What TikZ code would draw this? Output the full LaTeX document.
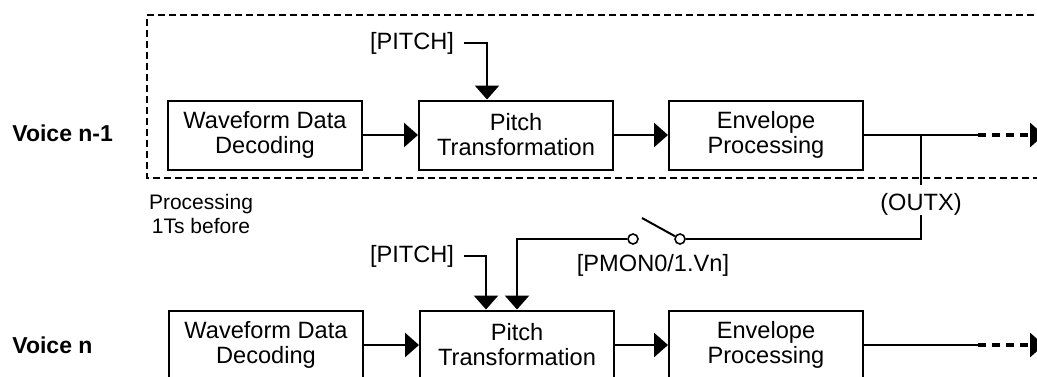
\documentclass[tikz,border=0pt]{standalone}
\usepackage{fontspec}
\setmainfont{Liberation Sans}
\usetikzlibrary{arrows.meta}
\begin{document}
\begin{tikzpicture}[x=0.5pt,y=-0.5pt,
        caja/.style={draw,line width=1pt,minimum width=97pt,minimum height=34.5pt,
          align=center,inner sep=0pt,font=\fontsize{11.8}{12.5}\selectfont},
        flecha/.style={line width=1.4pt,-{Triangle[length=7pt,width=12pt]}},
        linea/.style={line width=1.3pt},
        contacto/.style={circle,draw,fill=white,line width=0.8pt,minimum size=5pt,inner sep=0pt},
        etiq/.style={font=\fontsize{11.8}{14}\selectfont,inner sep=0pt,outer sep=5pt},
        voz/.style={font=\bfseries\fontsize{11.5}{14}\selectfont,inner sep=0pt,anchor=west}]
        \useasboundingbox (0,0) rectangle (1037,376);
        \clip (0,0) rectangle (1037,376);
        % Caja punteada (1Ts antes)
        \draw[line width=0.9pt,dash pattern=on 3.5pt off 2pt] (1045,15) -- (147,15) -- (147,178) -- (1045,178);
        \node[font=\fontsize{10.5}{12}\selectfont,align=center] (antes) at (201,214) {Processing\\1Ts before};

        % Voces
        \node[voz] (voz1) at (12,133) {Voice n-1};
        \node[voz] (voz2) at (12,345) {Voice n};

        % Bloques fila 1
        \node[caja] (onda1) at (265,135) {Waveform Data\\Decoding};
        \node[caja] (tono1) at (516,135) {Pitch\\Transformation};
        \node[caja] (env1) at (766,135) {Envelope\\Processing};
        % Bloques fila 2
        \node[caja] (onda2) at (266,345) {Waveform Data\\Decoding};
        \node[caja] (tono2) at (517,345) {Pitch\\Transformation};
        \node[caja] (env2) at (766,345) {Envelope\\Processing};

        % Flechas entre bloques
        \draw[flecha] (onda1) -- (tono1);
        \draw[flecha] (tono1) -- (env1);
        \draw[flecha] (onda2) -- (tono2);
        \draw[flecha] (tono2) -- (env2);

        % Salidas
        \coordinate (sal1) at (978,135);
        \coordinate (fin1) at (1044,135);
        \coordinate (sal2) at (978,345);
        \coordinate (fin2) at (1044,345);
        \draw[linea] (env1.east) -- (sal1);
        \draw[flecha,line width=1.6pt,dash pattern=on 4pt off 3pt] (sal1) -- (fin1);
        \draw[linea] (env2.east) -- (sal2);
        \draw[flecha,line width=1.6pt,dash pattern=on 4pt off 3pt] (sal2) -- (fin2);

        % Entradas [PITCH]
        \node[etiq,anchor=east] (tonoA) at (464,43) {[PITCH]};
        \draw[flecha] (tonoA.east) -| ([xshift=-14.5pt]tono1.north);
        \node[etiq,anchor=east] (tonoB) at (464,256) {[PITCH]};
        \draw[flecha] (tonoB.east) -| ([xshift=-15.5pt]tono2.north);

        % OUTX e interruptor
        \node[etiq,outer sep=0pt] (outx) at (921,204) {(OUTX)};
        \draw[linea] (outx.north |- env1.east) -- ([yshift=4pt]outx.north);
        \node[contacto] (swA) at (633,239) {};
        \node[contacto] (swB) at (680,239) {};
        \coordinate (palanca) at (642,218);
        \draw[linea] (outx.south) |- (swB.east);
        \draw[line width=1pt] (swB) -- (palanca);
        \draw[flecha] (swA.west) -| (tono2.north);
        \node[etiq,outer sep=0pt] (pmon) at (653,265) {[PMON0/1.Vn]};
    \end{tikzpicture}
\end{document}
